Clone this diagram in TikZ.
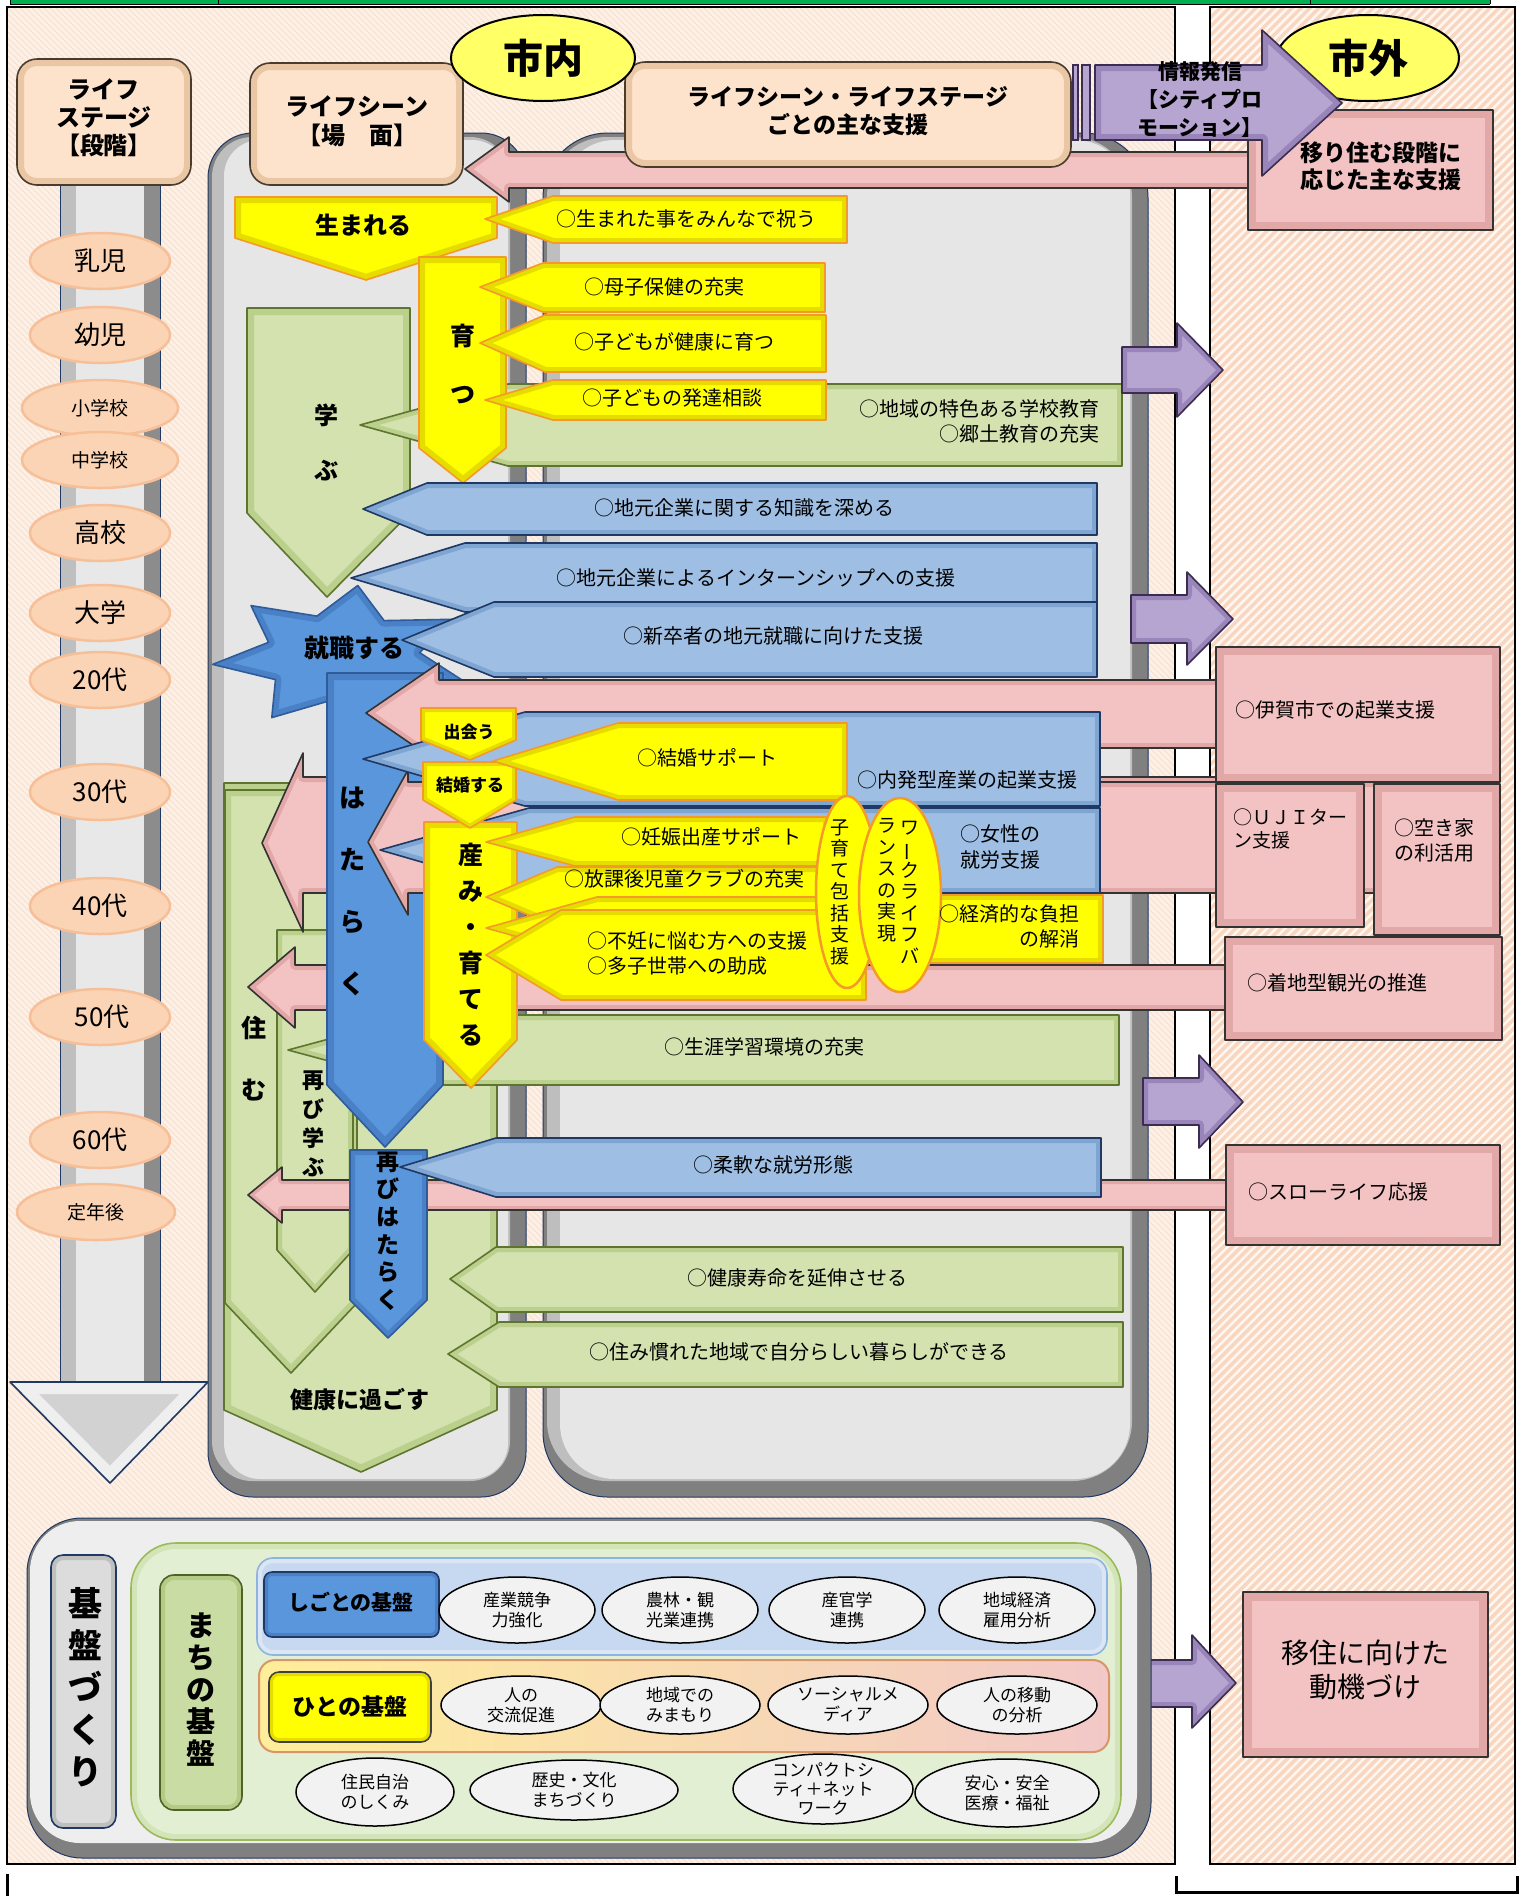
\documentclass[tikz,border=0pt]{standalone}
\usepackage{fontspec}
\setmainfont{Noto Sans CJK JP}
\usepackage{graphicx}
\definecolor{barg}{HTML}{00B050}
\definecolor{bgl}{HTML}{FDF1E7}
\definecolor{bglh}{HTML}{F8E2D2}
\definecolor{bgr}{HTML}{FFF6F0}
\definecolor{bgrh}{HTML}{F9D6C0}
\definecolor{ylw}{HTML}{FFFF00}
\definecolor{ylwb}{HTML}{E6DC00}
\definecolor{ylwl}{HTML}{F39A2B}
\definecolor{blu}{HTML}{9EBFE3}
\definecolor{blub}{HTML}{7FA5D3}
\definecolor{blul}{HTML}{1F3864}
\definecolor{bld}{HTML}{5A96DB}
\definecolor{bldb}{HTML}{4A80C6}
\definecolor{bldl}{HTML}{2E5C9A}
\definecolor{grn}{HTML}{D3E2AE}
\definecolor{grnb}{HTML}{BCD08E}
\definecolor{grnl}{HTML}{5E7530}
\definecolor{pnk}{HTML}{F3C3C3}
\definecolor{pnkb}{HTML}{E2A8A8}
\definecolor{pnkl}{HTML}{333333}
\definecolor{ppl}{HTML}{B6A5D0}
\definecolor{pplb}{HTML}{9985B9}
\definecolor{ppll}{HTML}{3A2D4F}
\definecolor{pch}{HTML}{FDE3CC}
\definecolor{pchb}{HTML}{E9C6A4}
\definecolor{pchl}{HTML}{4A3B2C}
\definecolor{stg}{HTML}{FBD4B5}
\definecolor{stgl}{HTML}{F6BF98}
\definecolor{yov}{HTML}{FFFF66}
\definecolor{pan}{HTML}{E6E6E6}
\definecolor{pand}{HTML}{808080}
\definecolor{panm}{HTML}{BEBEBE}
\definecolor{navy}{HTML}{1F3864}
\definecolor{ellf}{HTML}{F2F2F2}
\definecolor{lgrn}{HTML}{E3EFD3}
\definecolor{lgrnb}{HTML}{D2E4B8}
\definecolor{lgrnl}{HTML}{9BBB59}
\definecolor{lblu}{HTML}{C6D9F1}
\definecolor{lblub}{HTML}{DCE6F2}
\definecolor{lblul}{HTML}{8DB3E2}
\definecolor{ybox}{HTML}{FFEE99}
\definecolor{pbox}{HTML}{F2C8C8}
\definecolor{hline}{HTML}{D9956A}
\definecolor{dgray}{HTML}{404040}
\definecolor{sgl}{HTML}{BFBFBF}
\definecolor{sgm}{HTML}{E8E8E8}
\definecolor{sgd}{HTML}{8C8C8C}
\definecolor{sgh}{HTML}{D2D2D2}
\definecolor{sghb}{HTML}{EFEFEF}
\definecolor{bbox}{HTML}{EEEEEE}
\definecolor{kgray}{HTML}{DCDCDC}
\definecolor{mgrn}{HTML}{C9DCA4}
\definecolor{mgrnb}{HTML}{B3CB84}
\definecolor{mgrnl}{HTML}{4F6228}
\newcommand\fs[2]{\fontsize{#1}{#2}\selectfont}
\newcommand\vbar{\rotatebox[origin=c]{90}{ー}}
\newcommand\bev[5]{%
  \fill[#1] #5;
  \begin{scope}\clip #5;\draw[#2,line width=#4,line join=round] #5;\end{scope}
  \draw[#3,line width=1.6pt,line join=round] #5;}
\tikzset{t/.style={inner sep=0pt,align=center,text=black}}
\begin{document}
\begin{tikzpicture}[x=1pt,y=-1pt]
\useasboundingbox (0,0) rectangle (1521,1896);
\fill[white] (0,0) rectangle (1521,1896);
% top bar
\fill[barg] (10,0) rectangle (1490,4);
\draw[line width=1pt] (10,4) -- (1490,4) (218,0) -- (218,4) (1310,0) -- (1310,4) (10,0) -- (10,4) (1490,0) -- (1490,4);
% panels with hatching
\fill[bgl] (7,7) rectangle (1175,1864);
\begin{scope}
\clip (7,7) rectangle (1175,1864);
\foreach \a in {-1860,-1854,...,1175}{\draw[bglh,line width=1.2pt] (\a,0) -- (\a+1870,1870);}
\end{scope}
\draw[line width=1.5pt] (7,7) rectangle (1175,1864);
\fill[bgr] (1210,7) rectangle (1515,1864);
\begin{scope}
\clip (1210,7) rectangle (1515,1864);
\foreach \a in {-660,-651,...,1515}{\draw[bgrh,line width=3.5pt] (\a,1870) -- (\a+1870,0);}
\end{scope}
\draw[line width=1.5pt] (1210,7) rectangle (1515,1864);
\draw[line width=3pt] (7,1874) -- (7,1896);
\draw[line width=3pt] (1176,1876) -- (1176,1892) -- (1517,1892) -- (1517,1876);

% life stage arrow
\fill[sgm] (60,185) rectangle (160,1384);
\fill[sgl] (60,185) rectangle (76,1384);
\fill[sgd] (144,185) rectangle (160,1384);
\draw[navy,line width=1pt] (60,185) -- (60,1384) (160,185) -- (160,1384);
\bev{sgh}{sghb}{navy}{24pt}{(10,1382) -- (208,1382) -- (110,1483) -- cycle}
\bev{pch}{pchb}{pchl}{14pt}{[rounded corners=20pt] (17,59) rectangle (191,185)}
\foreach \yy/\rx in {261/70,335/70,408/78,460/78,533/70,613/70,680/70,792/70,906/70,1017/70,1140/70}{
  \draw[fill=stg,draw=stgl,line width=2.5pt] (100,\yy) ellipse [x radius=\rx pt,y radius=28pt];}
\draw[fill=stg,draw=stgl,line width=2.5pt] (96,1212) ellipse [x radius=79pt,y radius=28pt];

% scene panel and support panel
\fill[pand,rounded corners=45pt] (208,133) rectangle (526,1497);
\fill[panm,rounded corners=40pt] (212,137) rectangle (510,1481);
\fill[pan,rounded corners=36pt] (224,140) rectangle (508,1479);
\draw[navy,line width=1pt,rounded corners=45pt] (208,133) rectangle (526,1497);
\fill[pand,rounded corners=65pt] (543,133) rectangle (1148,1497);
\fill[panm,rounded corners=60pt] (547,137) rectangle (1132,1481);
\fill[pan,rounded corners=55pt] (560,140) rectangle (1130,1479);
\draw[navy,line width=1pt,rounded corners=65pt] (543,133) rectangle (1148,1497);

% P0 pink arrow
\bev{pnk}{pnkb}{pnkl}{10pt}{(465,169) -- (509,137) -- (509,152) -- (1252,152) -- (1252,188) -- (509,188) -- (509,202) -- cycle}
% headers
\bev{pch}{pchb}{pchl}{14pt}{[rounded corners=20pt] (250,63) rectangle (463,185)}
\bev{pch}{pchb}{pchl}{14pt}{[rounded corners=20pt] (625,62) rectangle (1071,167)}
\draw[fill=yov,line width=2pt] (543,58) ellipse [x radius=92pt,y radius=43pt];
\bev{pnk}{pnkb}{pnkl}{16pt}{(1248,110) rectangle (1493,230)}
\draw[fill=yov,line width=2pt] (1368,58) ellipse [x radius=91pt,y radius=43pt];
\bev{ppl}{pplb}{ppll}{12pt}{(1095,65) -- (1262,65) -- (1262,30) -- (1342,103) -- (1262,176) -- (1262,140) -- (1095,140) -- cycle}
\draw[fill=ppl,draw=ppll,line width=1.2pt] (1073,65) rectangle (1078,140);
\draw[fill=ppl,draw=ppll,line width=1.2pt] (1082,65) rectangle (1090,140);

% scene arrows (back)
\bev{grn}{grnb}{grnl}{14pt}{(224,783) -- (497,783) -- (497,1410) -- (361,1472) -- (224,1410) -- cycle}
\bev{grn}{grnb}{grnl}{12pt}{(225,790) -- (357,790) -- (357,1303) -- (291,1373) -- (225,1303) -- cycle}
\bev{grn}{grnb}{grnl}{10pt}{(277,930) -- (353,930) -- (353,1250) -- (315,1292) -- (277,1250) -- cycle}
% pink arrows behind hataraku
\bev{pnk}{pnkb}{pnkl}{10pt}{(262,843) -- (303,753) -- (303,777) -- (1220,777) -- (1220,893) -- (303,893) -- (303,932) -- cycle}
\bev{pnk}{pnkb}{pnkl}{10pt}{(248,987) -- (295,947) -- (295,965) -- (1230,965) -- (1230,1010) -- (295,1010) -- (295,1028) -- cycle}
\bev{pnk}{pnkb}{pnkl}{8pt}{(248,1195) -- (282,1167) -- (282,1180) -- (1230,1180) -- (1230,1210) -- (282,1210) -- (282,1223) -- cycle}
\bev{grn}{grnb}{grnl}{10pt}{(288,1050) -- (418,1015) -- (1119,1015) -- (1119,1085) -- (418,1085) -- cycle}
% manabu etc.
\bev{grn}{grnb}{grnl}{14pt}{(247,308) -- (410,308) -- (410,513) -- (327,597) -- (247,513) -- cycle}
\bev{grn}{grnb}{grnl}{10pt}{(360,425) -- (508,384) -- (1122,384) -- (1122,466) -- (508,466) -- cycle}
\bev{ylw}{ylwb}{ylwl}{12pt}{(235,197) -- (497,197) -- (497,238) -- (366,280) -- (235,238) -- cycle}
\bev{ylw}{ylwb}{ylwl}{12pt}{(419,257) -- (506,257) -- (506,448) -- (463,483) -- (419,448) -- cycle}
\bev{ylw}{ylwb}{ylwl}{10pt}{(485,219) -- (553,196) -- (847,196) -- (847,243) -- (553,243) -- cycle}
\bev{ylw}{ylwb}{ylwl}{10pt}{(480,287) -- (543,263) -- (825,263) -- (825,312) -- (543,312) -- cycle}
\bev{ylw}{ylwb}{ylwl}{10pt}{(480,343) -- (545,315) -- (826,315) -- (826,372) -- (545,372) -- cycle}
\bev{ylw}{ylwb}{ylwl}{10pt}{(485,400) -- (553,380) -- (826,380) -- (826,420) -- (553,420) -- cycle}
% star
\bev{bld}{bldb}{bldl}{12pt}{(357.8,585.5) -- (317.0,616.1) -- (251.0,605.6) -- (268.6,642.3) -- (212.7,664.4) -- (275.5,679.6) -- (271.8,717.6) -- (332.5,699.9) -- (383.7,725.2) -- (396.6,687.8) -- (464.3,681.5) -- (419.6,652.6) -- (452.8,619.3) -- (384.1,620.6) -- cycle}
\bev{blu}{blub}{blul}{10pt}{(363,509) -- (427,483) -- (1097,483) -- (1097,535) -- (427,535) -- cycle}
\bev{blu}{blub}{blul}{10pt}{(351,578) -- (465,543) -- (1097,543) -- (1097,612) -- (465,612) -- cycle}
\bev{blu}{blub}{blul}{10pt}{(402,640) -- (494,602) -- (1097,602) -- (1097,677) -- (494,677) -- cycle}
% hataraku
\bev{bld}{bldb}{bldl}{14pt}{(327,673) -- (443,673) -- (443,1085) -- (385,1147) -- (327,1085) -- cycle}
% pink over hataraku
\bev{pnk}{pnkb}{pnkl}{10pt}{(366,713) -- (439,663) -- (439,680) -- (1220,680) -- (1220,748) -- (439,748) -- (439,763) -- cycle}
\bev{pnk}{pnkb}{pnkl}{10pt}{(368,842) -- (408,770) -- (408,782) -- (1378,782) -- (1378,893) -- (408,893) -- (408,915) -- cycle}
\bev{blu}{blub}{blul}{10pt}{(363,759) -- (525,712) -- (1100,712) -- (1100,806) -- (525,806) -- cycle}
\bev{blu}{blub}{blul}{10pt}{(380,850) -- (529,808) -- (1100,808) -- (1100,893) -- (529,893) -- cycle}
% umi sodateru, deau, kekkon
\bev{ylw}{ylwb}{ylwl}{12pt}{(424,822) -- (517,822) -- (517,1040) -- (471,1088) -- (424,1040) -- cycle}
\bev{ylw}{ylwb}{ylwl}{8pt}{(421,708) -- (516,708) -- (516,740) -- (470,760) -- (421,740) -- cycle}
\bev{ylw}{ylwb}{ylwl}{8pt}{(423,762) -- (516,762) -- (516,800) -- (470,828) -- (423,800) -- cycle}
\bev{ylw}{ylwb}{ylwl}{10pt}{(493,761) -- (618,723) -- (847,723) -- (847,800) -- (618,800) -- cycle}
\bev{ylw}{ylwb}{ylwl}{10pt}{(486,842) -- (575,817) -- (828,817) -- (828,866) -- (575,866) -- cycle}
\bev{ylw}{ylwb}{ylwl}{10pt}{(486,897) -- (557,867) -- (828,867) -- (828,927) -- (557,927) -- cycle}
\bev{ylw}{ylwb}{ylwl}{10pt}{(486,928) -- (597,897) -- (866,897) -- (866,959) -- (597,959) -- cycle}
\bev{ylw}{ylwb}{ylwl}{10pt}{(486,955) -- (561,910) -- (866,910) -- (866,1000) -- (561,1000) -- cycle}
\bev{ylw}{ylwb}{ylwl}{10pt}{(927,895) rectangle (1103,963)}
% ovals
\draw[fill=ylw,draw=ylwl,line width=2.5pt] (847,892) ellipse [x radius=31pt,y radius=96pt];
\draw[fill=ylw,draw=ylwl,line width=2.5pt] (900,895) ellipse [x radius=41pt,y radius=97pt];
% futatabi hataraku, lower arrows
\bev{bld}{bldb}{bldl}{10pt}{(350,1150) -- (427,1150) -- (427,1300) -- (388,1338) -- (350,1300) -- cycle}
\bev{blu}{blub}{blul}{10pt}{(400,1167) -- (496,1138) -- (1101,1138) -- (1101,1197) -- (496,1197) -- cycle}
\bev{grn}{grnb}{grnl}{10pt}{(450,1279) -- (496,1247) -- (1123,1247) -- (1123,1312) -- (496,1312) -- cycle}
\bev{grn}{grnb}{grnl}{10pt}{(448,1354) -- (499,1322) -- (1123,1322) -- (1123,1387) -- (499,1387) -- cycle}
% purple small arrows
\bev{ppl}{pplb}{ppll}{10pt}{(1122,347) -- (1177,347) -- (1177,323) -- (1223,370) -- (1177,417) -- (1177,393) -- (1122,393) -- cycle}
\bev{ppl}{pplb}{ppll}{10pt}{(1131,595) -- (1187,595) -- (1187,572) -- (1233,619) -- (1187,665) -- (1187,643) -- (1131,643) -- cycle}
\bev{ppl}{pplb}{ppll}{10pt}{(1143,1078) -- (1199,1078) -- (1199,1055) -- (1243,1102) -- (1199,1148) -- (1199,1125) -- (1143,1125) -- cycle}
\bev{ppl}{pplb}{ppll}{10pt}{(1136,1660) -- (1192,1660) -- (1192,1635) -- (1236,1683) -- (1192,1728) -- (1192,1707) -- (1136,1707) -- cycle}
% right boxes
\bev{pnk}{pnkb}{pnkl}{16pt}{(1216,647) rectangle (1500,782)}
\bev{pnk}{pnkb}{pnkl}{16pt}{(1216,784) rectangle (1364,927)}
\bev{pnk}{pnkb}{pnkl}{16pt}{(1374,784) rectangle (1500,935)}
\bev{pnk}{pnkb}{pnkl}{16pt}{(1225,937) rectangle (1502,1040)}
\bev{pnk}{pnkb}{pnkl}{16pt}{(1226,1145) rectangle (1500,1245)}
\bev{pnk}{pnkb}{pnkl}{18pt}{(1243,1592) rectangle (1488,1757)}

% bottom section
\fill[pand,rounded corners=55pt] (27,1518) rectangle (1151,1858);
\fill[bbox,rounded corners=50pt] (30,1521) rectangle (1137,1843);
\draw[navy,line width=1pt,rounded corners=55pt] (27,1518) rectangle (1151,1858);
\bev{kgray}{sgl}{navy}{10pt}{[rounded corners=12pt] (51,1555) rectangle (116,1828)}
\bev{lgrn}{lgrnb}{lgrnl}{12pt}{[rounded corners=45pt] (131,1543) rectangle (1121,1840)}
\bev{mgrn}{mgrnb}{mgrnl}{10pt}{[rounded corners=14pt] (160,1575) rectangle (242,1810)}
\bev{lblu}{lblub}{lblul}{10pt}{[rounded corners=16pt] (257,1558) rectangle (1107,1655)}
\fill[left color=ybox,right color=pbox,rounded corners=16pt] (259,1660) rectangle (1109,1752);
\draw[hline,line width=2pt,rounded corners=16pt] (259,1660) rectangle (1109,1752);
\bev{bld}{bldb}{navy}{8pt}{[rounded corners=8pt] (264,1572) rectangle (439,1637)}
\bev{ylw}{ylwb}{dgray}{8pt}{[rounded corners=10pt] (269,1672) rectangle (431,1742)}
\foreach \xx in {517,680,847,1017}{\draw[fill=ellf,line width=1.5pt] (\xx,1610) ellipse [x radius=78pt,y radius=33pt];}
\foreach \xx in {521,680,848,1017}{\draw[fill=ellf,line width=1.5pt] (\xx,1705) ellipse [x radius=80pt,y radius=29pt];}
\draw[fill=ellf,line width=1.5pt] (375,1792) ellipse [x radius=79pt,y radius=34pt];
\draw[fill=ellf,line width=1.5pt] (574,1790) ellipse [x radius=104pt,y radius=30pt];
\draw[fill=ellf,line width=1.5pt] (823,1789) ellipse [x radius=90pt,y radius=35pt];
\draw[fill=ellf,line width=1.5pt] (1007,1793) ellipse [x radius=92pt,y radius=34pt];

% ===== texts =====
\node[t,font=\bfseries\fs{24}{28}] (lsh) at (104,118) {ライフ\\ステージ\\【段階】};
\node[t,font=\fs{26}{30}] (s1) at (100,261) {乳児};
\node[t,font=\fs{26}{30}] (s2) at (100,335) {幼児};
\node[t,font=\fs{19}{22}] (s3) at (100,408) {小学校};
\node[t,font=\fs{19}{22}] (s4) at (100,460) {中学校};
\node[t,font=\fs{26}{30}] (s5) at (100,533) {高校};
\node[t,font=\fs{26}{30}] (s6) at (100,613) {大学};
\node[t,font=\fs{26}{30}] (s7) at (100,680) {20代};
\node[t,font=\fs{26}{30}] (s8) at (100,792) {30代};
\node[t,font=\fs{26}{30}] (s9) at (100,906) {40代};
\node[t,font=\fs{26}{30}] (s10) at (102,1017) {50代};
\node[t,font=\fs{26}{30}] (s11) at (100,1140) {60代};
\node[t,font=\fs{19}{22}] (s12) at (96,1212) {定年後};
\node[t,font=\bfseries\fs{24}{29}] (lsc) at (357,121) {ライフシーン\\【場　面】};
\node[t,font=\bfseries\fs{23}{28}] (lss) at (848,111) {ライフシーン・ライフステージ\\ごとの主な支援};
\node[t,font=\bfseries\fs{40}{44}] (shinai) at (543,58) {市内};
\node[t,font=\bfseries\fs{40}{44}] (shigai) at (1368,58) {市外};
\node[t,font=\bfseries\fs{21}{28}] (joho) at (1200,100) {情報発信\\【シティプロ\\モーション】};
\node[t,font=\bfseries\fs{23}{27}] (utsuri) at (1381,166) {移り住む段階に\\応じた主な支援};
% scene labels
\node[t,font=\bfseries\fs{24}{28}] (umareru) at (363,225) {生まれる};
\node[t,font=\bfseries\fs{25}{58}] (sodatsu) at (463,364) {育\\つ};
\node[t,font=\bfseries\fs{24}{55}] (manabu) at (326,442) {学\\ぶ};
\node[t,font=\bfseries\fs{25}{30}] (shushoku) at (354,648) {就職する};
\node[t,font=\bfseries\fs{26}{62}] (hataraku) at (352,891) {は\\た\\ら\\く};
\node[t,font=\bfseries\fs{17}{20}] (deau) at (469,732) {出会う};
\node[t,font=\bfseries\fs{17}{20}] (kekkon) at (470,785) {結婚する};
\node[t,font=\bfseries\fs{25}{36}] (umi) at (471,945) {産\\み\\・\\育\\て\\る};
\node[t,font=\bfseries\fs{25}{62}] (sumu) at (254,1059) {住\\む};
\node[t,font=\bfseries\fs{22}{29}] (futamanabu) at (313,1124) {再\\び\\学\\ぶ};
\node[t,font=\bfseries\fs{23}{27.6}] (futahata) at (388,1231) {再\\び\\は\\た\\ら\\く};
\node[t,font=\bfseries\fs{23}{28}] (kenko) at (360,1400) {健康に過ごす};
% support texts
\node[t,font=\fs{20}{25}] (y1) at (686,219) {○生まれた事をみんなで祝う};
\node[t,font=\fs{20}{25}] (y2) at (664,287) {○母子保健の充実};
\node[t,font=\fs{20}{25}] (y3) at (674,342) {○子どもが健康に育つ};
\node[t,font=\fs{20}{25}] (y4) at (672,398) {○子どもの発達相談};
\node[t,font=\fs{20}{25},anchor=east,align=right] (g1) at (1100,421) {○地域の特色ある学校教育\\○郷土教育の充実};
\node[t,font=\fs{20}{25}] (b1) at (744,508) {○地元企業に関する知識を深める};
\node[t,font=\fs{20}{25}] (b2) at (756,578) {○地元企業によるインターンシップへの支援};
\node[t,font=\fs{20}{25}] (b3) at (773,636) {○新卒者の地元就職に向けた支援};
\node[t,font=\fs{20}{25}] (y5) at (707,758) {○結婚サポート};
\node[t,font=\fs{20}{25}] (b4) at (967,780) {○内発型産業の起業支援};
\node[t,font=\fs{20}{26}] (b5) at (1000,847) {○女性の\\就労支援};
\node[t,font=\fs{20}{25}] (y6) at (711,837) {○妊娠出産サポート};
\node[t,font=\fs{20}{25}] (y7) at (684,879) {○放課後児童クラブの充実};
\node[t,font=\fs{20}{25},anchor=west,align=left] (y8) at (587,953) {○不妊に悩む方への支援\\○多子世帯への助成};
\node[t,font=\fs{20}{25},anchor=east,align=right] (y9) at (1080,926) {○経済的な負担\\の解消};
\node[t,font=\fs{19}{21.5}] (kosodate) at (840,892) {子\\育\\て\\包\\括\\支\\援};
\node[t,font=\fs{19}{21.5}] (wlb1) at (910,892) {ワ\\\vbar\\ク\\ラ\\イ\\フ\\バ};
\node[t,font=\fs{19}{21.5}] (wlb2) at (887,880) {ラ\\ン\\ス\\の\\実\\現};
\node[t,font=\fs{20}{25}] (g2) at (764,1047) {○生涯学習環境の充実};
\node[t,font=\fs{20}{25}] (b6) at (773,1165) {○柔軟な就労形態};
\node[t,font=\fs{20}{25}] (g3) at (797,1278) {○健康寿命を延伸させる};
\node[t,font=\fs{20}{25}] (g4) at (799,1352) {○住み慣れた地域で自分らしい暮らしができる};
% right texts
\node[t,font=\fs{20}{25},anchor=west] (p1) at (1235,710) {○伊賀市での起業支援};
\node[t,font=\fs{19}{23},anchor=west,align=left] (p2) at (1233,829) {○ＵＪＩター\\ン支援};
\node[t,font=\fs{20}{25},anchor=west,align=left] (p3) at (1394,840) {○空き家\\の利活用};
\node[t,font=\fs{20}{25},anchor=west] (p4) at (1247,983) {○着地型観光の推進};
\node[t,font=\fs{20}{25},anchor=west] (p5) at (1248,1192) {○スローライフ応援};
\node[t,font=\fs{28}{34}] (iju) at (1365,1670) {移住に向けた\\動機づけ};
% bottom texts
\node[t,font=\bfseries\fs{34}{42}] (kiban) at (85,1687) {基\\盤\\づ\\く\\り};
\node[t,font=\bfseries\fs{29}{32}] (machi) at (201,1690) {ま\\ち\\の\\基\\盤};
\node[t,font=\bfseries\fs{21}{25}] (shigoto) at (351,1602) {しごとの基盤};
\node[t,font=\bfseries\fs{23}{25}] (hito) at (350,1706) {ひとの基盤};
\node[t,font=\fs{17}{20}] (e1) at (517,1610) {産業競争\\力強化};
\node[t,font=\fs{17}{20}] (e2) at (680,1610) {農林・観\\光業連携};
\node[t,font=\fs{17}{20}] (e3) at (847,1610) {産官学\\連携};
\node[t,font=\fs{17}{20}] (e4) at (1017,1610) {地域経済\\雇用分析};
\node[t,font=\fs{17}{20}] (e5) at (521,1705) {人の\\交流促進};
\node[t,font=\fs{17}{20}] (e6) at (680,1705) {地域での\\みまもり};
\node[t,font=\fs{17}{20}] (e7) at (848,1705) {ソーシャルメ\\ディア};
\node[t,font=\fs{17}{20}] (e8) at (1017,1705) {人の移動\\の分析};
\node[t,font=\fs{17}{20}] (e9) at (375,1792) {住民自治\\のしくみ};
\node[t,font=\fs{17}{20}] (e10) at (574,1790) {歴史・文化\\まちづくり};
\node[t,font=\fs{17}{19}] (e11) at (823,1789) {コンパクトシ\\ティ＋ネット\\ワーク};
\node[t,font=\fs{17}{20}] (e12) at (1007,1793) {安心・安全\\医療・福祉};
\end{tikzpicture}
\end{document}
